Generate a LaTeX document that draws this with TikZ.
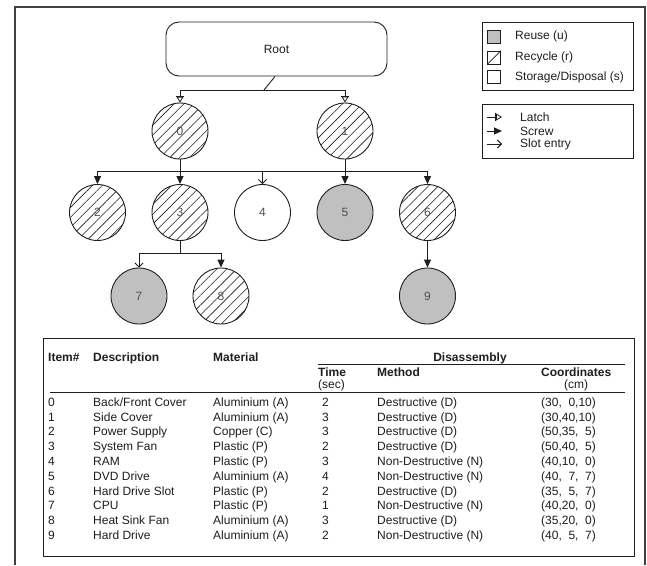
\documentclass[tikz,border=0pt]{standalone}
\usepackage{fontspec}
\setmainfont{Liberation Sans}
\usetikzlibrary{arrows.meta,patterns.meta}
\definecolor{reuse}{HTML}{C0C0C0}
\definecolor{ink}{HTML}{1E1E1E}
\definecolor{lbl}{HTML}{505050}
\newcommand\tabrow[6]{%
  \pgfmathsetmacro\yb{406.3+14.8*#1}%
  \node[cell] (ti#1) at (48,\yb) {#1};
  \node[cell] (td#1) at (93,\yb) {#2};
  \node[cell] (tm#1) at (213,\yb) {#3};
  \node[cell] (tt#1) at (322,\yb) {#4};
  \node[cell] (tx#1) at (377,\yb) {#5};
  \node[cell] (tc#1) at (541,\yb) {#6};
}
\begin{document}
\begin{tikzpicture}[x=1pt,y=-1pt,
  every node/.style={font=\fontsize{12}{14}\selectfont, text=ink},
  part/.style={circle, draw=ink, line width=0.9pt, minimum size=56pt, inner sep=0pt, text=lbl},
  reusepart/.style={part, fill=reuse},
  recyclepart/.style={part, pattern={Lines[angle=45,distance=7pt,line width=0.6pt]}, pattern color=ink},
  storepart/.style={part, fill=white},
  link/.style={draw=ink, line width=0.9pt},
  screw/.style={link, -{Triangle[length=8pt,width=7pt]}},
  slot/.style={link, -{Straight Barb[length=4pt,width=8pt]}},
  latch/.style={link, -{Bar[width=8pt,line width=0.9pt] Triangle[open,length=6pt,width=7pt,line width=0.8pt]}},
  boxline/.style={draw=ink, line width=0.9pt},
  legsq/.style={draw=ink, line width=0.8pt, minimum size=13pt, inner sep=0pt},
  legtxt/.style={anchor=west, inner sep=0pt},
  cell/.style={anchor=base west, inner sep=0pt},
  head/.style={anchor=base west, inner sep=0pt, font=\fontsize{12}{14}\selectfont\bfseries},
]
\useasboundingbox (0,0) rectangle (647,565);
\fill[white] (0,0) rectangle (647,565);
% outer frame
\draw[draw=black!75, line width=1.6pt] (15,565) -- (15,7) -- (645,7) -- (645,565);

% root
\node[boxline, rectangle, rounded corners=13pt, minimum width=221pt, minimum height=54pt] (root) at (276.5,49) {Root};

% parts
\node[recyclepart] (n0) at (180,131) {0};
\node[recyclepart] (n1) at (345,131) {1};
\node[recyclepart] (n2) at (97.5,212.5) {2};
\node[recyclepart] (n3) at (180,212.5) {3};
\node[storepart]   (n4) at (262.5,212.5) {4};
\node[reusepart]   (n5) at (345,212.5) {5};
\node[recyclepart] (n6) at (427.5,212.5) {6};
\node[reusepart]   (n7) at (139,296) {7};
\node[recyclepart] (n8) at (221,296) {8};
\node[reusepart]   (n9) at (427.5,296) {9};

% connectors
\coordinate (b1) at (264,90);
\coordinate (b2) at (0,171);
\coordinate (b3) at (0,253);
\draw[link] (root.south -| 275,0) -- (b1);
\draw[link] (n0 |- b1) -- (n1 |- b1);
\draw[latch] (n0 |- b1) -- (n0.north);
\draw[latch] (n1 |- b1) -- (n1.north);
\draw[link] (n0.south) -- (n0 |- b2);
\draw[link] (n1.south) -- (n1 |- b2);
\draw[link] (n2 |- b2) -- (n6 |- b2);
\draw[screw] (n2 |- b2) -- (n2.north);
\draw[screw] (n3 |- b2) -- (n3.north);
\draw[slot]  (n4 |- b2) -- (n4.north);
\draw[screw] (n5 |- b2) -- (n5.north);
\draw[screw] (n6 |- b2) -- (n6.north);
\draw[link] (n3.south) -- (n3 |- b3);
\draw[link] (n7 |- b3) -- (n8 |- b3);
\draw[slot]  (n7 |- b3) -- (n7.north);
\draw[screw] (n8 |- b3) -- (n8.north);
\draw[screw] (n6.south) -- (n9.north);

% legend 1
\draw[boxline] (482,22) rectangle (633,90);
\node[legsq, fill=reuse] (lu) at (494,36.5) {};
\node[legsq] (lr) at (494,57.5) {};
\draw[ink, line width=0.7pt] (lr.south west) -- (lr.north east);
\node[legsq] (ls) at (494,77) {};
\node[legtxt] (tu) at (515,36) {Reuse (u)};
\node[legtxt] (tr) at (515,57) {Recycle (r)};
\node[legtxt] (ts) at (515,77) {Storage/Disposal (s)};

% legend 2
\draw[boxline] (482,104) rectangle (633,158);
\coordinate (la1) at (487,117); \coordinate (la2) at (502,117);
\coordinate (lb1) at (487,131); \coordinate (lb2) at (502,131);
\coordinate (lc1) at (487,144); \coordinate (lc2) at (502,144);
\draw[latch] (la1) -- (la2);
\draw[screw] (lb1) -- (lb2);
\draw[slot]  (lc1) -- (lc2);
\node[legtxt] (tl) at (520,117) {Latch};
\node[legtxt] (tsc) at (520,131) {Screw};
\node[legtxt] (tse) at (520,144) {Slot entry};

% table
\draw[boxline] (43,338) rectangle (634,556);
\node[head] (hi) at (48,361.5) {Item\#};
\node[head] (hd) at (93,361.5) {Description};
\node[head] (hm) at (213,361.5) {Material};
\node[head, anchor=base] (hdis) at (470,361.5) {Disassembly};
\draw[ink, line width=1pt] (318,364) -- (625,364);
\node[head] (ht) at (318,376.5) {Time};
\node[cell] (hts) at (318,388.5) {(sec)};
\node[head] (hme) at (377,376.5) {Method};
\node[head] (hc) at (541,376.5) {Coordinates};
\node[cell, anchor=base] (hcm) at (hc.south |- 0,388.5) {(cm)};
\draw[ink, line width=1pt] (50,392) -- (625,392);

\tabrow{0}{Back/Front Cover}{Aluminium (A)}{2}{Destructive (D)}{(30,\hphantom{0}0,10)}
\tabrow{1}{Side Cover}{Aluminium (A)}{3}{Destructive (D)}{(30,40,10)}
\tabrow{2}{Power Supply}{Copper (C)}{3}{Destructive (D)}{(50,35,\hphantom{0}5)}
\tabrow{3}{System Fan}{Plastic (P)}{2}{Destructive (D)}{(50,40,\hphantom{0}5)}
\tabrow{4}{RAM}{Plastic (P)}{3}{Non-Destructive (N)}{(40,10,\hphantom{0}0)}
\tabrow{5}{DVD Drive}{Aluminium (A)}{4}{Non-Destructive (N)}{(40,\hphantom{0}7,\hphantom{0}7)}
\tabrow{6}{Hard Drive Slot}{Plastic (P)}{2}{Destructive (D)}{(35,\hphantom{0}5,\hphantom{0}7)}
\tabrow{7}{CPU}{Plastic (P)}{1}{Non-Destructive (N)}{(40,20,\hphantom{0}0)}
\tabrow{8}{Heat Sink Fan}{Aluminium (A)}{3}{Destructive (D)}{(35,20,\hphantom{0}0)}
\tabrow{9}{Hard Drive}{Aluminium (A)}{2}{Non-Destructive (N)}{(40,\hphantom{0}5,\hphantom{0}7)}
\end{tikzpicture}
\end{document}
